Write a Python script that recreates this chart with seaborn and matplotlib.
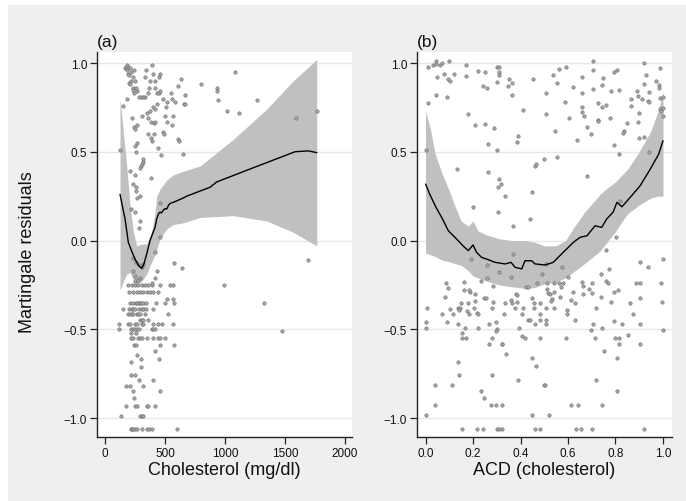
import matplotlib
matplotlib.use("Agg")
import matplotlib.pyplot as plt
from matplotlib.patches import Rectangle
import seaborn as sns
import pandas as pd

# ---------------- data: panel (a) ----------------
pts_a_upper = [
    (125, 0.51), (153, 0.76), (181, 0.80),
    (168, 0.97), (175, 0.98), (180, 0.96), (185, 0.99), (195, 0.98), (205, 0.97), (190, 0.94),
    (200, 0.93), (215, 0.95), (230, 0.92), (245, 0.96), (220, 0.90), (200, 0.89), (210, 0.88),
    (235, 0.86), (250, 0.90), (270, 0.84), (260, 0.86), (240, 0.83), (230, 0.85),
    (340, 0.96), (335, 0.92), (375, 0.90), (395, 0.99), (400, 0.94), (415, 0.90), (455, 0.94), (450, 0.92),
    (370, 0.86), (360, 0.83), (330, 0.81), (315, 0.81), (300, 0.81), (280, 0.81),
    (415, 0.86), (430, 0.83), (450, 0.83), (460, 0.84),
    (225, 0.69), (240, 0.64), (250, 0.63), (270, 0.65), (310, 0.70), (350, 0.72), (375, 0.73),
    (360, 0.69), (385, 0.67), (405, 0.66), (415, 0.67), (400, 0.75), (420, 0.74), (430, 0.77),
    (355, 0.60), (380, 0.58), (390, 0.56), (410, 0.60),
    (485, 0.80), (515, 0.78), (510, 0.75), (555, 0.80), (550, 0.83), (585, 0.78), (610, 0.87),
    (630, 0.91), (670, 0.82), (655, 0.77), (670, 0.77),
    (500, 0.70), (520, 0.67), (555, 0.65), (570, 0.70),
    (320, 0.46), (315, 0.44), (305, 0.43), (300, 0.42), (290, 0.41),
    (445, 0.52), (470, 0.48), (485, 0.61), (495, 0.60),
    (250, 0.53), (270, 0.55), (260, 0.50),
    (210, 0.39), (250, 0.37), (235, 0.32), (255, 0.30), (260, 0.28), (265, 0.24), (290, 0.25),
    (220, 0.18), (250, 0.16), (290, 0.11), (280, 0.07),
    (610, 0.57), (620, 0.56), (650, 0.49),
    (800, 0.88), (930, 0.86), (930, 0.84), (945, 0.79), (1015, 0.73), (1085, 0.95),
    (1120, 0.72), (1265, 0.79), (1590, 0.69), (1765, 0.73),
    (385, 0.35), (460, 0.21), (455, 0.02),
]
pts_a_lower = [
    (417, -0.063), (575, -0.127), (642, -0.157),
    (992, -0.25), (1325, -0.35), (1472, -0.51), (1694, -0.11),
    (233, -0.10), (258, -0.12), (283, -0.14), (306, -0.15), (319, -0.13), (236, -0.17), (250, -0.20), (292, -0.21),
    (194, -0.25), (222, -0.25), (250, -0.25), (278, -0.25), (306, -0.25), (333, -0.25), (361, -0.25),
    (389, -0.25), (458, -0.25), (542, -0.25), (564, -0.25),
    (250, -0.23), (278, -0.22), (389, -0.24), (417, -0.21), (431, -0.17),
    (203, -0.29), (236, -0.29), (264, -0.29), (292, -0.29), (319, -0.29), (347, -0.29), (375, -0.29),
    (403, -0.29), (444, -0.29),
    (208, -0.35), (233, -0.35), (258, -0.35), (267, -0.35), (283, -0.35), (292, -0.35), (303, -0.35),
    (317, -0.35), (342, -0.35), (425, -0.35), (500, -0.35), (575, -0.35), (569, -0.33), (514, -0.33),
    (147, -0.386), (203, -0.386), (222, -0.386), (236, -0.386), (250, -0.386), (286, -0.386),
    (306, -0.386), (319, -0.386), (342, -0.386), (397, -0.386),
    (194, -0.414), (208, -0.414), (222, -0.414), (236, -0.414), (264, -0.414), (278, -0.414),
    (292, -0.414), (333, -0.414), (528, -0.414),
    (292, -0.45), (306, -0.45), (319, -0.45), (361, -0.45),
    (119, -0.47), (194, -0.47), (208, -0.47), (250, -0.47), (264, -0.47), (306, -0.47), (319, -0.47),
    (403, -0.47), (444, -0.47), (472, -0.47), (569, -0.47),
    (119, -0.50), (217, -0.50), (236, -0.50), (250, -0.50), (269, -0.50), (286, -0.50), (389, -0.50),
    (403, -0.50), (417, -0.50),
    (214, -0.52), (258, -0.52),
    (217, -0.55), (236, -0.55), (278, -0.55), (292, -0.55), (306, -0.55), (347, -0.55), (397, -0.55),
    (444, -0.55), (458, -0.55), (500, -0.55),
    (244, -0.59), (258, -0.59), (458, -0.59), (575, -0.59),
    (417, -0.62), (264, -0.645), (297, -0.67), (453, -0.67), (214, -0.685), (303, -0.71),
    (214, -0.76), (253, -0.76), (281, -0.785), (403, -0.785),
    (175, -0.82), (206, -0.82), (317, -0.82), (236, -0.85), (458, -0.85), (244, -0.885),
    (175, -0.93), (253, -0.93), (267, -0.93), (347, -0.93), (361, -0.93), (417, -0.93),
    (136, -0.99), (292, -0.99), (306, -0.99), (319, -0.99),
    (214, -1.062), (228, -1.062), (236, -1.062), (250, -1.062), (264, -1.062), (306, -1.062),
    (347, -1.062), (369, -1.062), (389, -1.062), (603, -1.062),
]

line_a_x = [125, 167, 194, 222, 250, 278, 306, 325, 347, 375, 417, 430, 445, 458, 470, 485, 500, 514,
            530, 545, 569, 653, 681, 875, 931, 1236, 1583, 1694, 1764]
line_a_y = [0.26, 0.12, -0.01, -0.06, -0.105, -0.14, -0.157, -0.13, -0.076, 0.0, 0.075, 0.12, 0.15,
            0.16, 0.155, 0.17, 0.18, 0.177, 0.20, 0.21, 0.215, 0.24, 0.25, 0.30, 0.33, 0.41, 0.50, 0.505, 0.495]

band_a_x = [125, 153, 181, 208, 236, 264, 306, 347, 389, 417, 431, 458, 514, 569, 653, 792, 1069, 1347, 1569, 1764]
band_a_hi = [0.80, 0.61, 0.42, 0.20, 0.05, -0.03, -0.02, -0.02, 0.05, 0.16, 0.25, 0.29, 0.34, 0.37, 0.39,
             0.42, 0.57, 0.74, 0.90, 1.02]
band_a_lo = [-0.28, -0.23, -0.19, -0.18, -0.22, -0.25, -0.23, -0.19, -0.12, -0.08, -0.05, 0.01, 0.065,
             0.09, 0.10, 0.13, 0.14, 0.11, 0.046, -0.03]

# ---------------- data: panel (b) ----------------
pts_b_upper = [
    (0.011, 0.98), (0.032, 0.99), (0.042, 1.01), (0.046, 0.995), (0.06, 0.99), (0.07, 1.0), (0.10, 1.01),
    (0.049, 0.92), (0.077, 0.94), (0.096, 0.91), (0.104, 0.90), (0.121, 0.94), (0.044, 0.82), (0.09, 0.81),
    (0.011, 0.775), (0.17, 0.987), (0.17, 0.925), (0.22, 0.957), (0.25, 0.95), (0.243, 0.87), (0.26, 0.857),
    (0.30, 0.976), (0.31, 0.98), (0.31, 0.95), (0.31, 0.935), (0.30, 0.893), (0.35, 0.91), (0.363, 0.887),
    (0.346, 0.87), (0.366, 0.82), (0.454, 0.91), (0.412, 0.735), (0.18, 0.71), (0.21, 0.65), (0.25, 0.654),
    (0.29, 0.634), (0.39, 0.59), (0.384, 0.555), (0.264, 0.545), (0.30, 0.51), (0.0, 0.51), (0.132, 0.405),
    (0.264, 0.385), (0.31, 0.345), (0.318, 0.32), (0.307, 0.30), (0.336, 0.25), (0.20, 0.19), (0.307, 0.16),
    (0.44, 0.123), (0.37, 0.08), (0.45, 0.275), (0.46, 0.42), (0.465, 0.43),
    (0.704, 1.01), (0.704, 0.96), (0.92, 0.998), (0.988, 0.97), (0.56, 0.965), (0.59, 0.98), (0.535, 0.93),
    (0.555, 0.885), (0.657, 0.92), (0.623, 0.863), (0.66, 0.83), (0.707, 0.853), (0.749, 0.915),
    (0.745, 0.876), (0.792, 0.947), (0.806, 0.96), (0.782, 0.84), (0.816, 0.848), (0.93, 0.93),
    (0.918, 0.88), (0.892, 0.844), (0.893, 0.816), (0.91, 0.80), (0.942, 0.835), (0.972, 0.90),
    (0.982, 0.876), (0.985, 0.86), (0.935, 0.788), (0.942, 0.78), (0.986, 0.805), (0.998, 0.806),
    (0.986, 0.74), (0.99, 0.73), (0.998, 0.745), (0.998, 0.703), (0.506, 0.83), (0.588, 0.78),
    (0.509, 0.714), (0.605, 0.69), (0.66, 0.75), (0.659, 0.724), (0.666, 0.70), (0.728, 0.776),
    (0.742, 0.75), (0.759, 0.765), (0.866, 0.797), (0.865, 0.76), (0.90, 0.72), (0.893, 0.667),
    (0.728, 0.68), (0.725, 0.673), (0.775, 0.688), (0.68, 0.64), (0.697, 0.60), (0.546, 0.617),
    (0.85, 0.66), (0.835, 0.615), (0.833, 0.605), (0.897, 0.576), (0.922, 0.585), (0.639, 0.564),
    (0.792, 0.536), (0.814, 0.487), (0.94, 0.497), (0.499, 0.457), (0.553, 0.472), (0.68, 0.365),
    (0.821, 0.223), (0.803, 0.02),
]
pts_b_lower = [
    (0.19, -0.104), (0.367, -0.078), (0.26, -0.136), (0.31, -0.176), (0.26, -0.21), (0.36, -0.204), (0.49, -0.19),
    (0.086, -0.24), (0.096, -0.268), (0.162, -0.232), (0.16, -0.277), (0.186, -0.29), (0.183, -0.28),
    (0.208, -0.30), (0.233, -0.23), (0.285, -0.258), (0.38, -0.30), (0.387, -0.306), (0.425, -0.264),
    (0.433, -0.262), (0.468, -0.24), (0.084, -0.32), (0.149, -0.352), (0.177, -0.35), (0.207, -0.339),
    (0.245, -0.325), (0.253, -0.325), (0.284, -0.344), (0.336, -0.35), (0.36, -0.335), (0.363, -0.354),
    (0.384, -0.345), (0.45, -0.326), (0.458, -0.354), (0.484, -0.35),
    (0.008, -0.38), (0.068, -0.414), (0.105, -0.388), (0.138, -0.383), (0.145, -0.383), (0.14, -0.39),
    (0.117, -0.414), (0.173, -0.397), (0.184, -0.416), (0.205, -0.383), (0.218, -0.41), (0.222, -0.414),
    (0.28, -0.383), (0.332, -0.414), (0.377, -0.383), (0.412, -0.383), (0.405, -0.414), (0.458, -0.383),
    (0.482, -0.414),
    (0.0, -0.46), (0.0, -0.495), (0.09, -0.46), (0.138, -0.472), (0.155, -0.523), (0.166, -0.495),
    (0.155, -0.547), (0.172, -0.547), (0.222, -0.495), (0.266, -0.472), (0.297, -0.46), (0.30, -0.50),
    (0.296, -0.51), (0.278, -0.547), (0.266, -0.583), (0.32, -0.583), (0.323, -0.583), (0.395, -0.495),
    (0.405, -0.54), (0.419, -0.547), (0.433, -0.45), (0.44, -0.45), (0.461, -0.472), (0.484, -0.547),
    (0.482, -0.45), (0.34, -0.641),
    (0.138, -0.685), (0.142, -0.758), (0.038, -0.814), (0.112, -0.814), (0.281, -0.758), (0.388, -0.784),
    (0.447, -0.66), (0.464, -0.707), (0.50, -0.814), (0.232, -0.848), (0.247, -0.886), (0.041, -0.925),
    (0.274, -0.925), (0.295, -0.925), (0.322, -0.925), (0.0, -0.985), (0.447, -0.985),
    (0.152, -1.062), (0.218, -1.062), (0.243, -1.062), (0.30, -1.062), (0.31, -1.062), (0.32, -1.062),
    (0.461, -1.062), (0.484, -1.062),
    (0.76, -0.055), (0.905, -0.121), (0.999, -0.102), (0.935, -0.147), (0.508, -0.132), (0.575, -0.151),
    (0.60, -0.204), (0.737, -0.187), (0.774, -0.16),
    (0.51, -0.241), (0.543, -0.241), (0.563, -0.238), (0.58, -0.238), (0.572, -0.262), (0.657, -0.236),
    (0.662, -0.256), (0.70, -0.238), (0.76, -0.23), (0.77, -0.241), (0.886, -0.241), (0.903, -0.241),
    (0.99, -0.241),
    (0.51, -0.273), (0.514, -0.297), (0.524, -0.30), (0.543, -0.292), (0.533, -0.33), (0.527, -0.339),
    (0.619, -0.292), (0.69, -0.273), (0.70, -0.296), (0.665, -0.303), (0.792, -0.292), (0.809, -0.277),
    (0.565, -0.32), (0.614, -0.333), (0.628, -0.35), (0.74, -0.32), (0.783, -0.345), (0.861, -0.352),
    (0.904, -0.326), (0.996, -0.345),
    (0.506, -0.382), (0.543, -0.382), (0.597, -0.39), (0.597, -0.414), (0.716, -0.382), (0.873, -0.414),
    (0.507, -0.448), (0.507, -0.472), (0.628, -0.45), (0.707, -0.472), (0.795, -0.452), (0.827, -0.472),
    (0.903, -0.472), (0.696, -0.506), (0.744, -0.495), (0.998, -0.506),
    (0.593, -0.547), (0.714, -0.547), (0.80, -0.547), (0.816, -0.547), (0.852, -0.535), (0.813, -0.581),
    (0.904, -0.581), (0.75, -0.62), (0.806, -0.66), (0.503, -0.814), (0.716, -0.784), (0.807, -0.848),
    (0.612, -0.925), (0.64, -0.925), (0.744, -0.925), (0.519, -0.985),
    (0.632, -1.062), (0.654, -1.062), (0.702, -1.062), (0.918, -1.062),
]

line_b_x = [0, 0.018, 0.044, 0.068, 0.096, 0.131, 0.16, 0.18, 0.20, 0.215, 0.236, 0.264, 0.293, 0.335, 0.36,
            0.377, 0.405, 0.419, 0.447, 0.461, 0.503, 0.538, 0.566, 0.594, 0.623, 0.651, 0.68, 0.714, 0.742,
            0.763, 0.79, 0.806, 0.827, 0.862, 0.904, 0.947, 0.982, 1.0]
line_b_y = [0.318, 0.26, 0.187, 0.13, 0.055, 0.008, -0.033, -0.057, -0.025, -0.067, -0.095, -0.108, -0.123,
            -0.132, -0.123, -0.151, -0.16, -0.114, -0.114, -0.132, -0.138, -0.123, -0.085, -0.048, -0.01,
            0.018, 0.027, 0.083, 0.074, 0.121, 0.16, 0.215, 0.19, 0.243, 0.309, 0.403, 0.487, 0.562]

band_b_x = [0, 0.02, 0.04, 0.07, 0.10, 0.125, 0.15, 0.18, 0.20, 0.22, 0.26, 0.31, 0.36, 0.42, 0.46, 0.50,
            0.55, 0.59, 0.62, 0.67, 0.735, 0.77, 0.80, 0.85, 0.90, 0.95, 0.98, 1.0]
band_b_hi = [0.73, 0.63, 0.49, 0.375, 0.28, 0.19, 0.11, 0.08, 0.11, 0.055, 0.03, 0.01, 0.0, 0.0, -0.01, -0.03,
             -0.03, 0.0, 0.065, 0.16, 0.26, 0.30, 0.33, 0.40, 0.50, 0.62, 0.73, 0.84]
band_b_lo = [-0.07, -0.08, -0.09, -0.11, -0.12, -0.13, -0.14, -0.17, -0.20, -0.21, -0.23, -0.25, -0.26, -0.27,
             -0.265, -0.245, -0.235, -0.21, -0.18, -0.13, -0.06, 0.0, 0.05, 0.15, 0.20, 0.24, 0.25, 0.25]

yticks = [-1.0, -0.5, 0.0, 0.5, 1.0]
xticks_a = [0, 500, 1000, 1500, 2000]
xticks_b = [0.0, 0.2, 0.4, 0.6, 0.8, 1.0]

# ---------------- styling ----------------
sns.set_theme(style="white")
plt.rcParams["font.family"] = ["Liberation Sans", "DejaVu Sans"]
plt.rcParams["axes.unicode_minus"] = True

W, H = 686, 502
fig = plt.figure(figsize=(W / 100, H / 100), dpi=100)
fig.patch.set_facecolor("white")
fig.patches.append(Rectangle((8 / W, 0), 1 - 8 / W, 1 - 6 / H, transform=fig.transFigure,
                             facecolor="#efefef", edgecolor="none", zorder=-10))


def make_axes(left_px):
    return fig.add_axes([left_px / W, (H - 438) / H, 255 / W, 385 / H])


ax_a = make_axes(97)
ax_b = make_axes(417)

BAND = "#c0c0c0"
PT_FACE = "#a8a8a8"
PT_EDGE = "#666666"


def draw(ax, pts_up, pts_lo, bx, blo, bhi, lx, ly, xlim, xticks, xfmt, xlabel, title):
    ax.set_facecolor("white")
    for y in yticks:
        ax.axhline(y, color="#e8e8e8", lw=1.0, zorder=0)
    ax.fill_between(bx, blo, bhi, color=BAND, lw=0, zorder=1)
    pts = pts_up + pts_lo
    df = pd.DataFrame(pts, columns=["x", "y"])
    sns.scatterplot(data=df, x="x", y="y", ax=ax, s=6, color=PT_FACE, edgecolor=PT_EDGE,
                    linewidth=0.4, zorder=3, legend=False)
    dl = pd.DataFrame({"x": lx, "y": ly})
    sns.lineplot(data=dl, x="x", y="y", ax=ax, color="black", lw=1.0, estimator=None, sort=False, zorder=4)
    ax.set_xlim(*xlim)
    ax.set_ylim(-1.107, 1.062)
    ax.set_xticks(xticks)
    ax.set_xticklabels([xfmt(v) for v in xticks])
    ax.set_yticks(yticks)
    ax.set_yticklabels([f"{v:.1f}".replace("-", "\u2212") for v in yticks])
    ax.tick_params(axis="both", direction="out", length=5, width=0.9, color="#222222",
                   labelsize=8.5, labelcolor="#111111", pad=2, left=True, bottom=True)
    for s in ["top", "right"]:
        ax.spines[s].set_visible(False)
    for s in ["left", "bottom"]:
        ax.spines[s].set_color("#222222")
        ax.spines[s].set_linewidth(1.0)
    ax.set_xlabel(xlabel, fontsize=13, labelpad=2, color="#111111")
    ax.set_ylabel("")
    ax.set_title(title, loc="left", fontsize=12.5, pad=4, color="#111111")
    ax.grid(False)


draw(ax_a, pts_a_upper, pts_a_lower, band_a_x, band_a_lo, band_a_hi, line_a_x, line_a_y,
     (-67, 2058), xticks_a, lambda v: f"{v:d}", "Cholesterol (mg/dl)", "(a)")
draw(ax_b, pts_b_upper, pts_b_lower, band_b_x, band_b_lo, band_b_hi, line_b_x, line_b_y,
     (-0.036, 1.038), xticks_b, lambda v: f"{v:.1f}", "ACD (cholesterol)", "(b)")

fig.text(28 / W, 1 - 252 / H, "Martingale residuals", rotation=90, ha="center", va="center",
         fontsize=13, color="#111111")

fig.savefig("out.png", dpi=100, facecolor=fig.get_facecolor())
